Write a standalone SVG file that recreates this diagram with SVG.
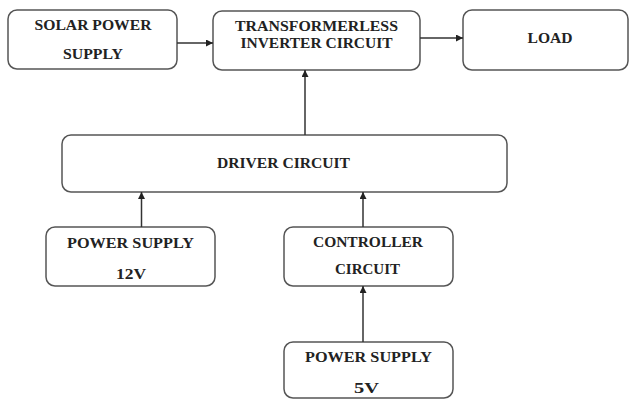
<svg xmlns="http://www.w3.org/2000/svg" width="629" height="400" viewBox="0 0 629 400">
<defs>
<marker id="arr" viewBox="0 0 10 10" refX="10" refY="5" markerWidth="7" markerHeight="7" markerUnits="userSpaceOnUse" orient="auto">
<path d="M0,0 L10,5 L0,10 z" fill="#222"/>
</marker>
</defs>
<style>
.box{fill:#fff;stroke:#555;stroke-width:1.5}
.t{font-family:"Liberation Serif","Times New Roman",serif;font-weight:bold;font-size:15px;fill:#222;text-anchor:middle}
.c{stroke:#333;stroke-width:1.5;fill:none;marker-end:url(#arr)}
</style>
<rect width="629" height="400" fill="#fff"/>
<g id="solar">
<rect class="box" x="8" y="10" width="169" height="59" rx="9"/>
<text class="t" x="93" y="30" textLength="117" lengthAdjust="spacingAndGlyphs">SOLAR POWER</text>
<text class="t" x="93" y="59" textLength="60" lengthAdjust="spacingAndGlyphs">SUPPLY</text>
</g>
<g id="inverter">
<rect class="box" x="213" y="11" width="207" height="59" rx="9"/>
<text class="t" x="316.5" y="31" textLength="163" lengthAdjust="spacingAndGlyphs">TRANSFORMERLESS</text>
<text class="t" x="316.5" y="48" textLength="152" lengthAdjust="spacingAndGlyphs">INVERTER CIRCUIT</text>
</g>
<g id="load">
<rect class="box" x="463" y="10" width="165" height="60" rx="9"/>
<text class="t" x="550" y="43" textLength="45" lengthAdjust="spacingAndGlyphs">LOAD</text>
</g>
<g id="driver">
<rect class="box" x="62" y="135" width="445" height="57" rx="9"/>
<text class="t" x="283.5" y="168" textLength="133" lengthAdjust="spacingAndGlyphs">DRIVER CIRCUIT</text>
</g>
<g id="ps12">
<rect class="box" x="46" y="227" width="169" height="59" rx="9"/>
<text class="t" x="130.5" y="248" textLength="127" lengthAdjust="spacingAndGlyphs">POWER SUPPLY</text>
<text class="t" x="131" y="279" textLength="30" lengthAdjust="spacingAndGlyphs">12V</text>
</g>
<g id="controller">
<rect class="box" x="284" y="227" width="169" height="59" rx="9"/>
<text class="t" x="368" y="247" textLength="110" lengthAdjust="spacingAndGlyphs">CONTROLLER</text>
<text class="t" x="367.5" y="274" textLength="65" lengthAdjust="spacingAndGlyphs">CIRCUIT</text>
</g>
<g id="ps5">
<rect class="box" x="284" y="342" width="169" height="56" rx="9"/>
<text class="t" x="368.5" y="362" textLength="127" lengthAdjust="spacingAndGlyphs">POWER SUPPLY</text>
<text class="t" x="366.5" y="393" textLength="25" lengthAdjust="spacingAndGlyphs">5V</text>
</g>
<g id="connectors">
<line class="c" x1="177" y1="43" x2="213" y2="43"/>
<line class="c" x1="420" y1="38" x2="463" y2="38"/>
<line class="c" x1="305" y1="135" x2="305" y2="70"/>
<line class="c" x1="141.5" y1="227" x2="141.5" y2="192"/>
<line class="c" x1="363" y1="227" x2="363" y2="192"/>
<line class="c" x1="363" y1="342" x2="363" y2="286"/>
</g>
</svg>
